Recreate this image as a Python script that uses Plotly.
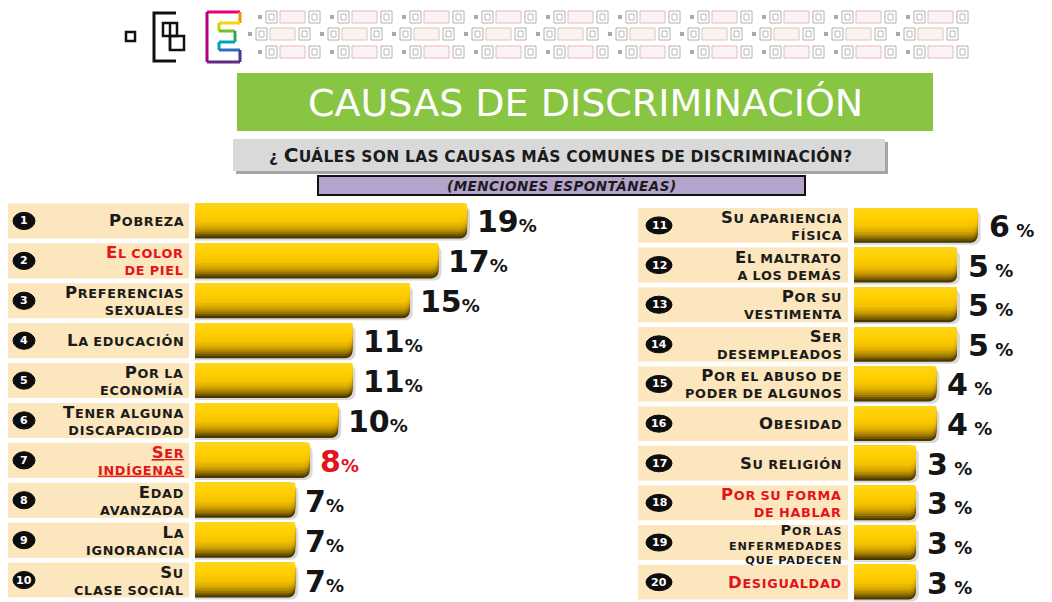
import plotly.graph_objects as go

# ---------------- data ----------------
left_labels = ["Pobreza", "El color\nde piel", "Preferencias\nsexuales", "La educación",
               "Por la\neconomía", "Tener alguna\ndiscapacidad", "Ser\nindígenas",
               "Edad\navanzada", "La\nignorancia", "Su\nclase social"]
left_values = [19, 17, 15, 11, 11, 10, 8, 7, 7, 7]
left_ranks = [1, 2, 3, 4, 5, 6, 7, 8, 9, 10]
left_red = [False, True, False, False, False, False, True, False, False, False]

right_labels = ["Su apariencia\nfísica", "El maltrato\na los demás", "Por su\nvestimenta",
                "Ser\ndesempleados", "Por el abuso de\npoder de algunos", "Obesidad",
                "Su religión", "Por su forma\nde hablar", "Por las\nenfermedades\nque padecen",
                "Desigualdad"]
right_values = [6, 5, 5, 5, 4, 4, 3, 3, 3, 3]
right_ranks = [11, 12, 13, 14, 15, 16, 17, 18, 19, 20]
right_red = [False, False, False, False, False, False, False, True, False, True]

title_text = "CAUSAS DE DISCRIMINACIÓN"
question_text = "¿ Cuáles son las causas más comunes de discriminación?"
note_text = "(Menciones espontáneas)"

# ---------------- helpers ----------------
W, H = 1052, 602
def px(x): return x / W
def py(y): return 1 - y / H

RED = "#E3141B"
DARK = "#151515"
FONT = "DejaVu Sans"

def smallcaps(text, big, small, ls=0.6):
    lines = []
    for line in text.split("\n"):
        parts = []
        for word in line.split(" "):
            if not word:
                continue
            if word[0].isupper():
                s = f"<span style='font-size:{big}px;letter-spacing:{ls}px'>{word[0]}</span>"
                if len(word) > 1:
                    s += f"<span style='font-size:{small}px;letter-spacing:{ls}px'>{word[1:].upper()}</span>"
            else:
                s = f"<span style='font-size:{small}px;letter-spacing:{ls}px'>{word.upper()}</span>"
            parts.append(s)
        lines.append(" ".join(parts))
    return "<br>".join(lines)

def mix(c1, c2, t):
    a = [int(c1[i:i + 2], 16) for i in (1, 3, 5)]
    b = [int(c2[i:i + 2], 16) for i in (1, 3, 5)]
    return "#%02x%02x%02x" % tuple(round(x + (y - x) * t) for x, y in zip(a, b))

fig = go.Figure()

# gradient layers: fraction of bar height from the top -> colour (bottom dark, top bright)
stops = [(0.0, "#ffd61e"), (0.30, "#ffd000"), (0.55, "#f6c400"), (0.72, "#d9a700"),
         (0.86, "#a17b00"), (1.0, "#4a3800")]
def grad(f):
    for (f0, c0), (f1, c1) in zip(stops[:-1], stops[1:]):
        if f0 <= f <= f1:
            return mix(c0, c1, (f - f0) / (f1 - f0))
    return stops[-1][1]
nl = 16
layers = [((nl - j) / nl, grad((nl - j) / nl)) for j in range(nl)]
BW = 0.88

for vals, xa, ya, k in [(left_values, "x", "y", 14.32), (right_values, "x2", "y2", 20.6)]:
    ys = list(range(len(vals)))
    fig.add_trace(go.Bar(x=[v + 3 / k for v in vals], y=ys, orientation="h", width=BW,
                         offset=-BW / 2 + 0.05,
                         marker=dict(color="rgba(0,0,0,0.15)", cornerradius=7, line_width=0),
                         xaxis=xa, yaxis=ya, hoverinfo="skip", showlegend=False))
    for frac, col in layers:
        fig.add_trace(go.Bar(x=vals, y=ys, orientation="h", width=BW * frac, offset=-BW / 2,
                             marker=dict(color=col, cornerradius=7, line_width=0),
                             xaxis=xa, yaxis=ya, hoverinfo="skip", showlegend=False))

shapes = []
annotations = []

panels = [
    dict(labels=left_labels, vals=left_values, ranks=left_ranks, red=left_red, xa="x", ya="y",
         cell=(8, 189), circ=24, cw=22, lab=186, xshift=8),
    dict(labels=right_labels, vals=right_values, ranks=right_ranks, red=right_red, xa="x2", ya="y2",
         cell=(638, 848), circ=659, cw=26, lab=844, xshift=9),
]
for p in panels:
    for i, (lab, v, r, isred) in enumerate(zip(p["labels"], p["vals"], p["ranks"], p["red"])):
        shapes.append(dict(type="rect", xref="paper", yref=p["ya"], x0=px(p["cell"][0]), x1=px(p["cell"][1]),
                           y0=i - BW / 2, y1=i + BW / 2, fillcolor="#FCE6BD", line_width=0, layer="below"))
        shapes.append(dict(type="circle", xref="paper", yref=p["ya"], x0=px(p["circ"] - p["cw"] / 2),
                           x1=px(p["circ"] + p["cw"] / 2), y0=i - 0.215, y1=i + 0.215,
                           fillcolor="#0d0d0d", line=dict(color="#0d0d0d", width=1)))
        annotations.append(dict(xref="paper", yref=p["ya"], x=px(p["circ"]), y=i, text=f"<b>{r}</b>",
                                xanchor="center", yanchor="middle", showarrow=False,
                                font=dict(family=FONT, size=11, color="white")))
        nlines = lab.count("\n") + 1
        small, big = (12.8, 16.5) if nlines < 3 else (11.2, 14.5)
        body = smallcaps(lab, big, small, 0.7 if nlines < 3 else 0.9)
        txt = "<b><u>" + body + "</u></b>" if (i == 6 and p["xa"] == "x") else "<b>" + body + "</b>"
        annotations.append(dict(xref="paper", yref=p["ya"], x=px(p["lab"]), y=i, text=txt,
                                xanchor="right", yanchor="middle", align="right", showarrow=False,
                                yshift=-2 if nlines == 3 else 0,
                                font=dict(family=FONT, size=small, color=RED if isred else "#1b1b1b")))
        sp = "" if p["xa"] == "x" else " "
        vcol = RED if (p["xa"] == "x" and i == 6) else DARK
        annotations.append(dict(xref=p["xa"], yref=p["ya"], x=v, y=i, xanchor="left", yanchor="middle",
                                xshift=p["xshift"], yshift=-1, showarrow=False,
                                text=f"<b>{v}<span style='font-size:18px'>{sp}%</span></b>",
                                font=dict(family=FONT, size=30, color=vcol)))

# ---------------- header ----------------
shapes.append(dict(type="rect", xref="paper", yref="paper", x0=px(237), x1=px(933), y0=py(131), y1=py(73),
                   fillcolor="#88C542", line_width=0))
annotations.append(dict(xref="paper", yref="paper", x=px(585), y=py(103), text=title_text, showarrow=False,
                        xanchor="center", yanchor="middle",
                        font=dict(family=FONT, size=38, color="white")))
shapes.append(dict(type="rect", xref="paper", yref="paper", x0=px(236), x1=px(888), y0=py(174), y1=py(142),
                   fillcolor="#a5a5a5", line_width=0))
shapes.append(dict(type="rect", xref="paper", yref="paper", x0=px(233), x1=px(885), y0=py(171), y1=py(139),
                   fillcolor="#D9D9D9", line_width=0))
annotations.append(dict(xref="paper", yref="paper", x=px(560), y=py(155),
                        text="<b>" + smallcaps(question_text, 20, 15.5, 0.3) + "</b>", showarrow=False,
                        xanchor="center", yanchor="middle",
                        font=dict(family=FONT, size=15.5, color="#1b1b1b")))
shapes.append(dict(type="rect", xref="paper", yref="paper", x0=px(318), x1=px(805), y0=py(195), y1=py(176),
                   fillcolor="#B4A3CB", line=dict(color="#111", width=2)))
annotations.append(dict(xref="paper", yref="paper", x=px(562), y=py(186),
                        text="<b><i>" + smallcaps(note_text, 17.5, 13.5, 0.5) + "</i></b>", showarrow=False,
                        xanchor="center", yanchor="middle",
                        font=dict(family=FONT, size=13.5, color="#1b1b1b")))

# logo
shapes.append(dict(type="rect", xref="paper", yref="paper", x0=px(126), x1=px(135), y0=py(41), y1=py(32),
                   line=dict(color="#111", width=2.5)))
shapes.append(dict(type="path", xref="paper", yref="paper",
                   path=f"M {px(176)},{py(13)} L {px(154)},{py(13)} L {px(154)},{py(61)} L {px(176)},{py(61)}",
                   line=dict(color="#111", width=3)))
shapes.append(dict(type="rect", xref="paper", yref="paper", x0=px(163), x1=px(177), y0=py(36), y1=py(23),
                   line=dict(color="#111", width=2.5)))
shapes.append(dict(type="rect", xref="paper", yref="paper", x0=px(170), x1=px(184), y0=py(50), y1=py(36),
                   line=dict(color="#111", width=2.5)))
shapes.append(dict(type="line", xref="paper", yref="paper", x0=px(170), x1=px(170), y0=py(23), y1=py(50),
                   line=dict(color="#111", width=2.5)))
E = [(207, 12), (240, 12), (240, 23), (219, 23), (219, 31), (235, 31), (235, 42), (219, 42), (219, 50),
     (240, 50), (240, 62), (207, 62), (207, 12)]
Ecol = ["#e6007e", "#f39200", "#fcd200", "#c9d400", "#7dbb2e", "#2fa84f", "#00a0c6", "#00a0c6", "#2f6ec1",
        "#3c3c9b", "#5b2c83", "#b0007a"]
for (a, b), c in zip(zip(E[:-1], E[1:]), Ecol):
    shapes.append(dict(type="line", xref="paper", yref="paper", x0=px(a[0]), y0=py(a[1]), x1=px(b[0]),
                       y1=py(b[1]), line=dict(color=c, width=3)))
for row, (yc, x_start) in enumerate([(17, 258), (34, 248), (52, 258)]):
    x0 = x_start
    while x0 + 62 <= 1012:
        y0, y1 = yc - 6, yc + 6
        shapes.append(dict(type="rect", xref="paper", yref="paper", x0=px(x0), x1=px(x0 + 4),
                           y0=py(yc + 2), y1=py(yc - 2), fillcolor="#aaa", line_width=0))
        for bx in (x0 + 8, x0 + 51):
            shapes.append(dict(type="rect", xref="paper", yref="paper", x0=px(bx), x1=px(bx + 11),
                               y0=py(y1), y1=py(y0), line=dict(color="#b0b0b0", width=1)))
            shapes.append(dict(type="rect", xref="paper", yref="paper", x0=px(bx + 3), x1=px(bx + 8),
                               y0=py(yc + 3), y1=py(yc - 3), line=dict(color="#b8b8b8", width=1)))
        shapes.append(dict(type="rect", xref="paper", yref="paper", x0=px(x0 + 22), x1=px(x0 + 47),
                           y0=py(y1), y1=py(y0), fillcolor="#fbf3f3",
                           line=dict(color="#e7b7bd" if row != 1 else "#d9c9a5", width=1)))
        x0 += 72

fig.update_layout(
    width=W, height=H, margin=dict(l=0, r=0, t=0, b=0),
    paper_bgcolor="white", plot_bgcolor="rgba(0,0,0,0)", barmode="overlay",
    xaxis=dict(domain=[px(195), px(600)], range=[0, 405 / 14.32], visible=False, fixedrange=True),
    yaxis=dict(domain=[py(600), py(201)], range=[9.5, -0.5], visible=False, fixedrange=True),
    xaxis2=dict(domain=[px(854), 1], range=[0, 198 / 20.6], visible=False, anchor="y2", fixedrange=True),
    yaxis2=dict(domain=[0, py(205.6)], range=[9.5, -0.5], visible=False, anchor="x2", fixedrange=True),
    shapes=shapes, annotations=annotations, showlegend=False,
)

fig.write_html("out.html", config={"displayModeBar": False},
               post_script="document.body.style.margin='0';")
